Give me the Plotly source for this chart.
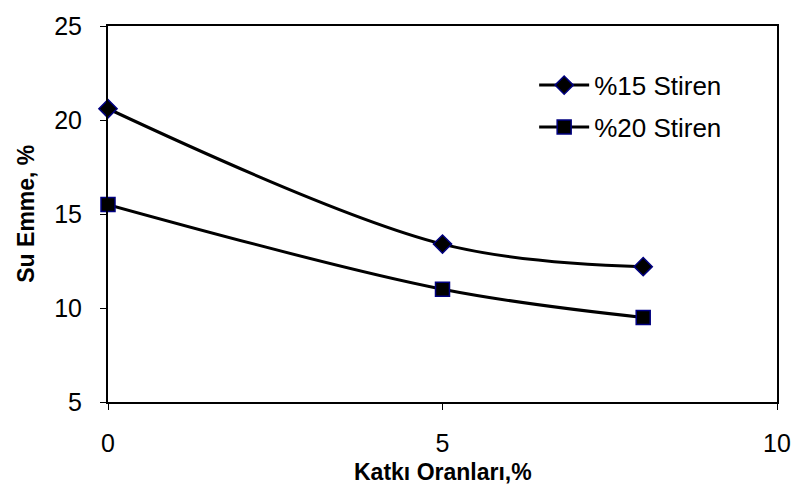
import plotly.graph_objects as go

# Additive ratio (%) and water absorption (%) for two styrene levels
katki = [0, 5, 8]
stiren15 = [20.6, 13.4, 12.2]
stiren20 = [15.5, 11.0, 9.5]
series_names = ["%15 Stiren", "%20 Stiren"]

FONT = "Liberation Sans, Arial, sans-serif"
W, H = 803, 494
ML, MR, MT, MB = 108, 20, 18, 92
plot_w = W - ML - MR
plot_h = H - MT - MB

fig = go.Figure()
fig.add_trace(go.Scatter(
    x=katki, y=stiren15, name=series_names[0], mode="lines+markers",
    line=dict(color="black", width=3, shape="spline", smoothing=1.0),
    marker=dict(symbol="diamond", size=14, color="black",
                line=dict(color="#000080", width=1.5)),
    legendgroup="a", cliponaxis=False,
))
fig.add_trace(go.Scatter(
    x=katki, y=stiren20, name=series_names[1], mode="lines+markers",
    line=dict(color="black", width=3, shape="spline", smoothing=1.0),
    marker=dict(symbol="square", size=14, color="black",
                line=dict(color="#000080", width=1.5)),
    legendgroup="b", cliponaxis=False,
))

axis_common = dict(
    showline=True, linecolor="black", linewidth=2, mirror=True,
    ticks="outside", ticklen=6, tickwidth=1, tickcolor="black",
    showgrid=False, zeroline=False,
    tickfont=dict(family=FONT, size=25, color="black"),
)

fig.update_xaxes(range=[0, 10], tickvals=[0, 5, 10], ticklabelstandoff=12,
                 **axis_common)
fig.update_yaxes(range=[5, 25], tickvals=[5, 10, 15, 20, 25], ticklabelstandoff=13,
                 **axis_common)

# Axis titles, positioned in pixels relative to the plot area
fig.add_annotation(text="<b>Katkı Oranları,%</b>", showarrow=False,
                   xref="paper", yref="paper", x=0.5, y=-(473 - (H - MB)) / plot_h,
                   xanchor="center", yanchor="middle",
                   font=dict(family=FONT, size=23, color="black"))
fig.add_annotation(text="<b>Su Emme, %</b>", textangle=-90, showarrow=False,
                   xref="paper", yref="paper", x=-(ML - 25) / plot_w, y=0.5,
                   xanchor="center", yanchor="middle",
                   font=dict(family=FONT, size=23, color="black"))

fig.update_layout(
    width=W, height=H,
    margin=dict(l=ML, r=MR, t=MT, b=MB),
    plot_bgcolor="white", paper_bgcolor="white",
    legend=dict(x=0.637, y=0.905, xanchor="left", yanchor="top", itemwidth=50,
                font=dict(family=FONT, size=26, color="black"),
                bgcolor="rgba(0,0,0,0)", tracegroupgap=5, traceorder="grouped"),
)

fig.write_html("out.html")
